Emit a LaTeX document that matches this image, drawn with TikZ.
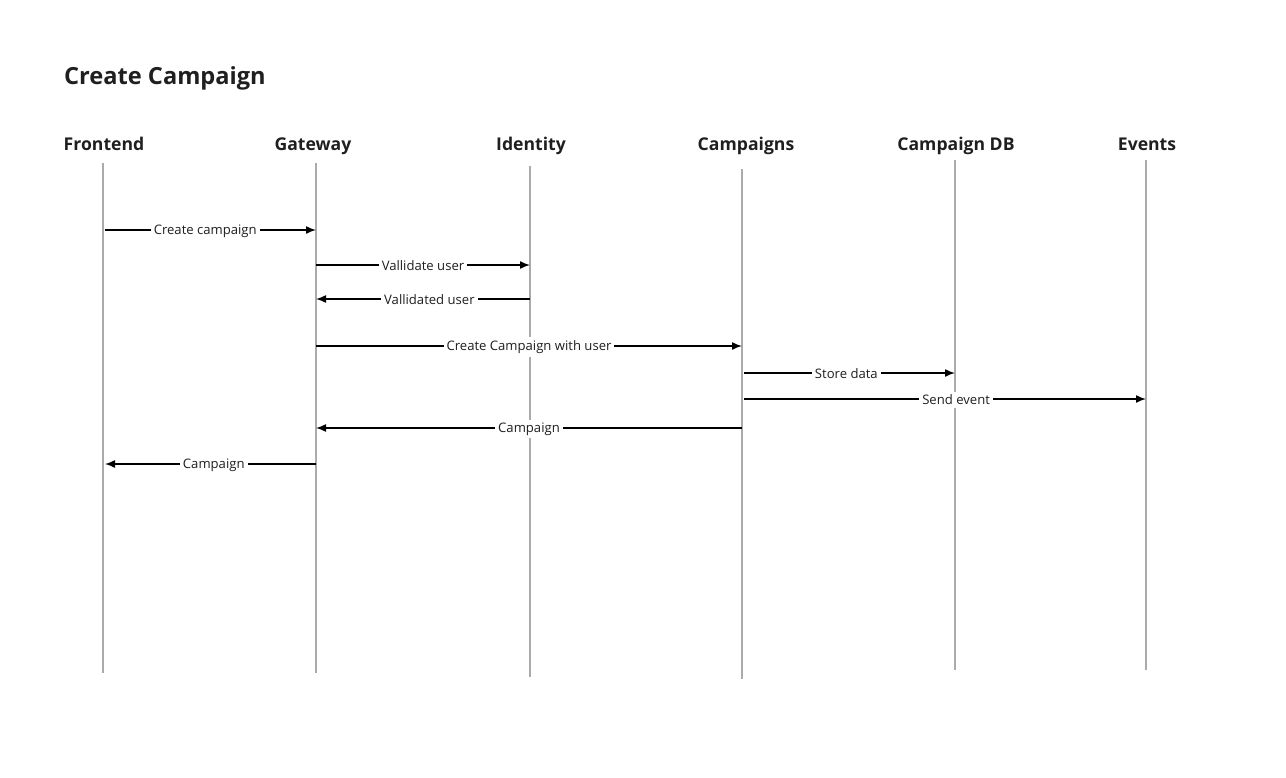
\documentclass[tikz,border=0pt]{standalone}
\usepackage{fontspec}
\setmainfont{Open Sans}
\usetikzlibrary{arrows.meta}

\begin{document}
\begin{tikzpicture}[x=1pt, y=-1pt]
        \tikzstyle{actor}=[anchor=base, font=\bfseries\fontsize{17.6}{20}\selectfont, inner sep=0pt, text=black!88]
        \tikzstyle{life}=[draw=black!33, line width=2pt]
        \tikzstyle{msg}=[line width=1.5pt, -{Latex[length=10pt, width=8pt]}]
        \tikzstyle{lbl}=[fill=white, font=\fontsize{13.1}{15}\selectfont, inner sep=3pt, yshift=-1pt, text=black!88]

        \useasboundingbox (0,0) rectangle (1286,777);

        \node[anchor=base west, inner sep=0pt, text=black!88, font=\bfseries\fontsize{23.6}{28}\selectfont] (title) at (64,84) {Create Campaign};

        \node[actor] (fe)  at (104,150)  {Frontend};
        \node[actor] (gw)  at (313,150)  {Gateway};
        \node[actor] (id)  at (531,150)  {Identity};
        \node[actor] (cp)  at (746,150)  {Campaigns};
        \node[actor] (db)  at (956,150)  {Campaign DB};
        \node[actor] (ev)  at (1147,150) {Events};

        \foreach \n/\x/\t/\b in {fe/103/163/673, gw/316/163/673, id/530/166/677,
                                 cp/742/169/679, db/955/160/670, ev/1146/160/670} {
            \coordinate (\n-top) at (\x,\t);
            \coordinate (\n-bot) at (\x,\b);
            \draw[life] (\n-top) -- (\n-bot);
        }

        \coordinate (m1) at (0,230);
        \coordinate (m2) at (0,265);
        \coordinate (m3) at (0,299);
        \coordinate (m4) at (0,346);
        \coordinate (m5) at (0,373);
        \coordinate (m6) at (0,399);
        \coordinate (m7) at (0,428);
        \coordinate (m8) at (0,464);

        \draw[msg, shorten <=2pt] (fe-top |- m1) -- node[lbl, pos=0.48] {Create campaign} (gw-top |- m1);
        \draw[msg] (gw-top |- m2) -- node[lbl] {Vallidate user} (id-top |- m2);
        \draw[msg] (id-top |- m3) -- node[lbl, pos=0.47] {Vallidated user} (gw-top |- m3);
        \draw[msg] (gw-top |- m4) -- node[lbl] {Create Campaign with user} (cp-top |- m4);
        \draw[msg, shorten <=2pt] (cp-top |- m5) -- node[lbl, pos=0.49] {Store data} (db-top |- m5);
        \draw[msg, shorten <=2pt] (cp-top |- m6) -- node[lbl, pos=0.53] {Send event} (ev-top |- m6);
        \draw[msg] (cp-top |- m7) -- node[lbl] {Campaign} (gw-top |- m7);
        \draw[msg, shorten >=2pt] (gw-top |- m8) -- node[lbl, pos=0.48] {Campaign} (fe-top |- m8);

    \end{tikzpicture}
\end{document}
